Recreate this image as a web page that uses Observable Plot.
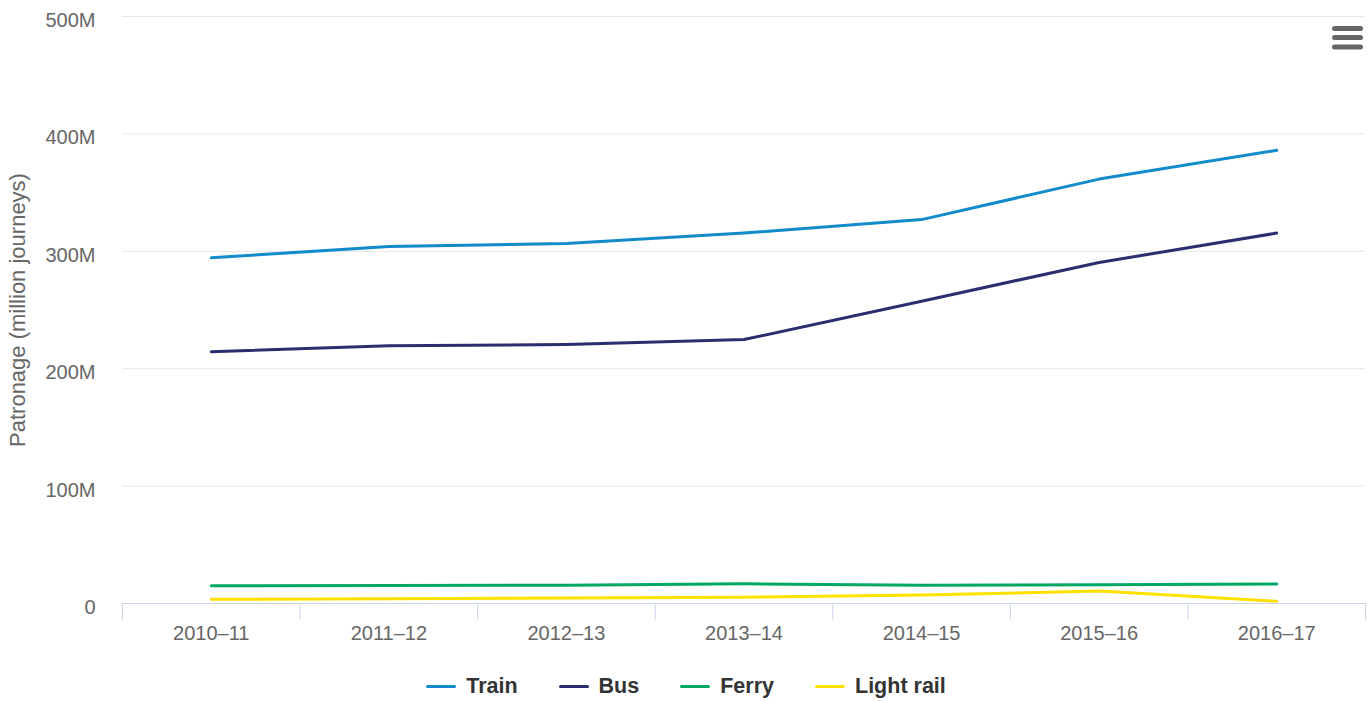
<!DOCTYPE html>
<html>
<head>
<meta charset="utf-8">
<script src="https://cdn.jsdelivr.net/npm/d3@7"></script>
<script src="https://cdn.jsdelivr.net/npm/@observablehq/plot@0.6"></script>
<style>
  html, body { margin: 0; padding: 0; background: #fff; }
  #wrap { position: relative; width: 1372px; height: 702px; font-family: "Liberation Sans", Arial, Helvetica, sans-serif; }
  #legend { position: absolute; left: 0; top: 674px; width: 1372px; display: flex; justify-content: center; align-items: center; gap: 41px; font-size: 21.5px; font-weight: bold; color: #333; }
  .item { display: flex; align-items: center; gap: 10px; }
  .sym { width: 30px; height: 3px; border-radius: 2px; }
  #menu { position: absolute; left: 1332px; top: 26px; }
</style>
</head>
<body>
<div id="wrap">
  <div id="chart"></div>
  <div id="legend"></div>
  <svg id="menu" width="32" height="26">
    <rect x="0" y="0" width="31" height="5" rx="2.5" fill="#666"/>
    <rect x="0" y="9" width="31" height="5" rx="2.5" fill="#666"/>
    <rect x="0" y="18.5" width="31" height="5" rx="2.5" fill="#666"/>
  </svg>
</div>
<script>
const years = ["2010–11", "2011–12", "2012–13", "2013–14", "2014–15", "2015–16", "2016–17"];
const seriesNames = ["Train", "Bus", "Ferry", "Light rail"];
const seriesColors = ["#128bcc", "#292f6e", "#00a862", "#fde000"];
const train = [294.5, 304, 306.6, 315.5, 327, 361.5, 386];
const bus = [214.5, 219.5, 220.6, 224.8, 257.5, 290.5, 315.5];
const ferry = [15.1, 15.4, 15.6, 16.8, 15.6, 16.0, 16.6];
const lightRail = [3.6, 4.1, 4.6, 5.3, 7.2, 10.6, 1.9];
const yTicks = [0, 100, 200, 300, 400, 500];
const yTitle = "Patronage (million journeys)";

const seriesValues = [train, bus, ferry, lightRail];
const rows = [];
seriesNames.forEach((name, s) => {
  seriesValues[s].forEach((v, i) => rows.push({series: name, i, value: v}));
});
const boundaries = d3.range(years.length + 1).map(k => k - 0.5);

const font = "'Liberation Sans', Arial, Helvetica, sans-serif";
const chart = Plot.plot({
  width: 1372,
  height: 660,
  marginLeft: 122,
  marginRight: 7,
  marginTop: 16,
  marginBottom: 57,
  style: {fontFamily: font, background: "#fff", overflow: "visible"},
  x: {type: "linear", domain: [-0.5, years.length - 0.5], axis: null},
  y: {domain: [0, 500], axis: null},
  color: {domain: seriesNames, range: seriesColors},
  marks: [
    Plot.gridY(yTicks, {stroke: "#e6e6e6", strokeOpacity: 1, strokeWidth: 1}),
    Plot.axisY({ticks: yTicks, tickSize: 0, tickPadding: 27, tickFormat: d => d === 0 ? "0" : d + "M",
      fontSize: 20, fill: "#666", dy: 4, label: null}),
    Plot.axisY({ticks: [], tickSize: 0, label: yTitle, labelAnchor: "center", labelArrow: "none",
      labelOffset: 113, fontSize: 22, fill: "#666"}),
    Plot.ruleY([0], {stroke: "#ccd6eb", strokeWidth: 1}),
    Plot.axisX({ticks: boundaries, tickSize: 17, tickFormat: () => "", stroke: "#ccd6eb", strokeOpacity: 1, label: null}),
    Plot.axisX({ticks: d3.range(years.length), tickSize: 0, tickPadding: 22, tickFormat: i => years[i],
      fontSize: 20, fill: "#666", label: null}),
    Plot.line(rows, {x: "i", y: "value", z: "series", stroke: "series", strokeWidth: 3,
      strokeLinecap: "round", strokeLinejoin: "round"})
  ]
});
document.getElementById("chart").appendChild(chart);

const legend = document.getElementById("legend");
seriesNames.forEach((name, s) => {
  const item = document.createElement("div");
  item.className = "item";
  const sym = document.createElement("div");
  sym.className = "sym";
  sym.style.background = seriesColors[s];
  const label = document.createElement("span");
  label.textContent = name;
  item.appendChild(sym);
  item.appendChild(label);
  legend.appendChild(item);
});
</script>
</body>
</html>
